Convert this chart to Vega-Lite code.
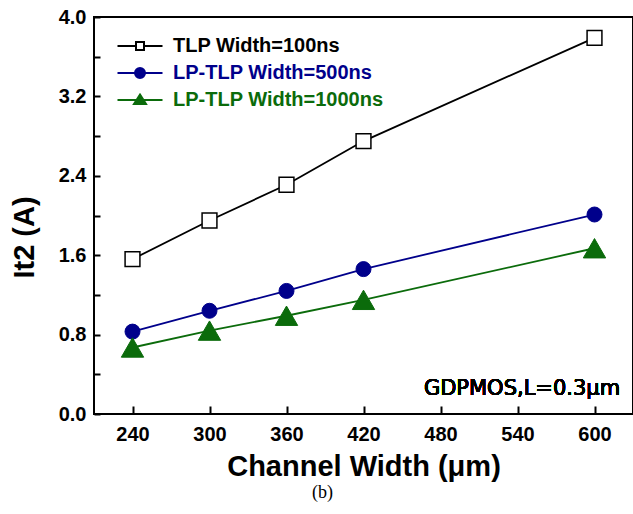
{
  "$schema": "https://vega.github.io/schema/vega-lite/v6.json",
  "autosize": {"type": "none"},
  "width": 539,
  "height": 397,
  "padding": {"left": 94, "top": 17, "right": 0, "bottom": 100},
  "background": "white",
  "config": {
    "view": {"stroke": "black", "strokeWidth": 2},
    "font": "Liberation Sans",
    "axis": {
      "ticks": true,
      "tickSize": 8,
      "tickWidth": 2,
      "tickColor": "black",
      "tickOpacity": 1,
      "domain": false,
      "gridOpacity": 0,
      "labelFont": "Liberation Sans",
      "labelFontSize": 20,
      "labelFontWeight": "bold",
      "labelColor": "black",
      "titleFont": "Liberation Sans",
      "titleFontSize": 29,
      "titleFontWeight": "bold",
      "titleColor": "black"
    },
    "axisY": {"tickSize": 6}
  },
  "title": {
    "text": "(b)",
    "orient": "bottom",
    "font": "Liberation Serif",
    "fontSize": 18,
    "fontWeight": "normal",
    "color": "black",
    "dx": -41,
    "offset": 3
  },
  "data": {
    "values": [
      {"series": "TLP Width=100ns", "width": 240, "it2": 1.56},
      {"series": "TLP Width=100ns", "width": 300, "it2": 1.95},
      {"series": "TLP Width=100ns", "width": 360, "it2": 2.31},
      {"series": "TLP Width=100ns", "width": 420, "it2": 2.75},
      {"series": "TLP Width=100ns", "width": 600, "it2": 3.79},
      {"series": "LP-TLP Width=500ns", "width": 240, "it2": 0.83},
      {"series": "LP-TLP Width=500ns", "width": 300, "it2": 1.04},
      {"series": "LP-TLP Width=500ns", "width": 360, "it2": 1.24},
      {"series": "LP-TLP Width=500ns", "width": 420, "it2": 1.46},
      {"series": "LP-TLP Width=500ns", "width": 600, "it2": 2.01},
      {"series": "LP-TLP Width=1000ns", "width": 240, "it2": 0.67},
      {"series": "LP-TLP Width=1000ns", "width": 300, "it2": 0.84},
      {"series": "LP-TLP Width=1000ns", "width": 360, "it2": 0.99},
      {"series": "LP-TLP Width=1000ns", "width": 420, "it2": 1.15},
      {"series": "LP-TLP Width=1000ns", "width": 600, "it2": 1.67}
    ]
  },
  "encoding": {
    "x": {
      "field": "width",
      "type": "quantitative",
      "scale": {"domain": [210, 630], "nice": false, "zero": false},
      "axis": {
        "title": "Channel Width (μm)",
        "values": [240, 300, 360, 420, 480, 540, 600],
        "offset": -8,
        "labelPadding": 10,
        "titlePadding": 8
      }
    },
    "y": {
      "field": "it2",
      "type": "quantitative",
      "scale": {"domain": [0, 4], "nice": false},
      "axis": {
        "title": "It2 (A)",
        "values": [0, 0.4, 0.8, 1.2, 1.6, 2.0, 2.4, 2.8, 3.2, 3.6, 4.0],
        "labelExpr": "abs(datum.value / 0.8 - round(datum.value / 0.8)) < 0.001 ? format(datum.value, '.1f') : ''",
        "offset": -6,
        "labelPadding": 8,
        "titlePadding": 19,
        "titleY": 220
      }
    }
  },
  "layer": [
    {
      "mark": {"type": "line", "strokeWidth": 1.8},
      "encoding": {
        "color": {
          "field": "series",
          "type": "nominal",
          "scale": {
            "domain": ["TLP Width=100ns", "LP-TLP Width=500ns", "LP-TLP Width=1000ns"],
            "range": ["black", "#00008b", "#0b6b0b"]
          },
          "legend": {
            "title": null,
            "orient": "none",
            "legendX": 36,
            "legendY": 19,
            "padding": 0,
            "symbolSize": 100,
            "labelOffset": 23,
            "labelLimit": 400,
            "rowPadding": 7,
            "labelFont": "Liberation Sans",
            "labelFontSize": 20,
            "labelFontWeight": "bold",
            "encode": {
              "symbols": {
                "update": {
                  "shape": {"signal": "datum.value === 'TLP Width=100ns' ? 'M-4.5,0H-0.8M0.8,0H4.5M-0.8,-0.8H0.8V0.8H-0.8Z' : datum.value === 'LP-TLP Width=500ns' ? 'M-4.5,0H4.5M-1,0A1,1,0,1,0,1,0A1,1,0,1,0,-1,0Z' : 'M-4.5,0H4.5M0,-1.1L1.2,0.8L-1.2,0.8Z'"},
                  "fill": {"signal": "datum.value === 'TLP Width=100ns' ? 'white' : datum.value === 'LP-TLP Width=500ns' ? '#00008b' : '#0b6b0b'"},
                  "stroke": {"signal": "datum.value === 'TLP Width=100ns' ? 'black' : datum.value === 'LP-TLP Width=500ns' ? '#00008b' : '#0b6b0b'"},
                  "strokeWidth": {"value": 2},
                  "opacity": {"value": 1}
                }
              },
              "labels": {
                "update": {
                  "fill": {"signal": "datum.value === 'TLP Width=100ns' ? 'black' : datum.value === 'LP-TLP Width=500ns' ? '#00008b' : '#0b6b0b'"}
                }
              }
            }
          }
        }
      }
    },
    {
      "transform": [{"filter": "datum.series === 'TLP Width=100ns'"}],
      "mark": {"type": "point", "shape": "square", "size": 220, "filled": true, "fill": "white", "stroke": "black", "strokeWidth": 1.5, "opacity": 1}
    },
    {
      "transform": [{"filter": "datum.series === 'LP-TLP Width=500ns'"}],
      "mark": {"type": "point", "shape": "circle", "size": 225, "filled": true, "fill": "#00008b", "stroke": "#00008b", "strokeWidth": 1, "opacity": 1}
    },
    {
      "transform": [{"filter": "datum.series === 'LP-TLP Width=1000ns'"}],
      "mark": {"type": "point", "shape": "triangle-up", "size": 500, "filled": true, "fill": "#0b6b0b", "stroke": "#0b6b0b", "strokeWidth": 1, "opacity": 1}
    },
    {
      "mark": {
        "type": "text",
        "align": "right",
        "baseline": "alphabetic",
        "font": "DejaVu Sans",
        "fontSize": 21,
        "fontWeight": "normal",
        "color": "black"
      },
      "encoding": {
        "x": {"datum": 620},
        "y": {"datum": 0.19},
        "text": {"value": "GDPMOS,L=0.3μm"}
      }
    }
  ]
}
